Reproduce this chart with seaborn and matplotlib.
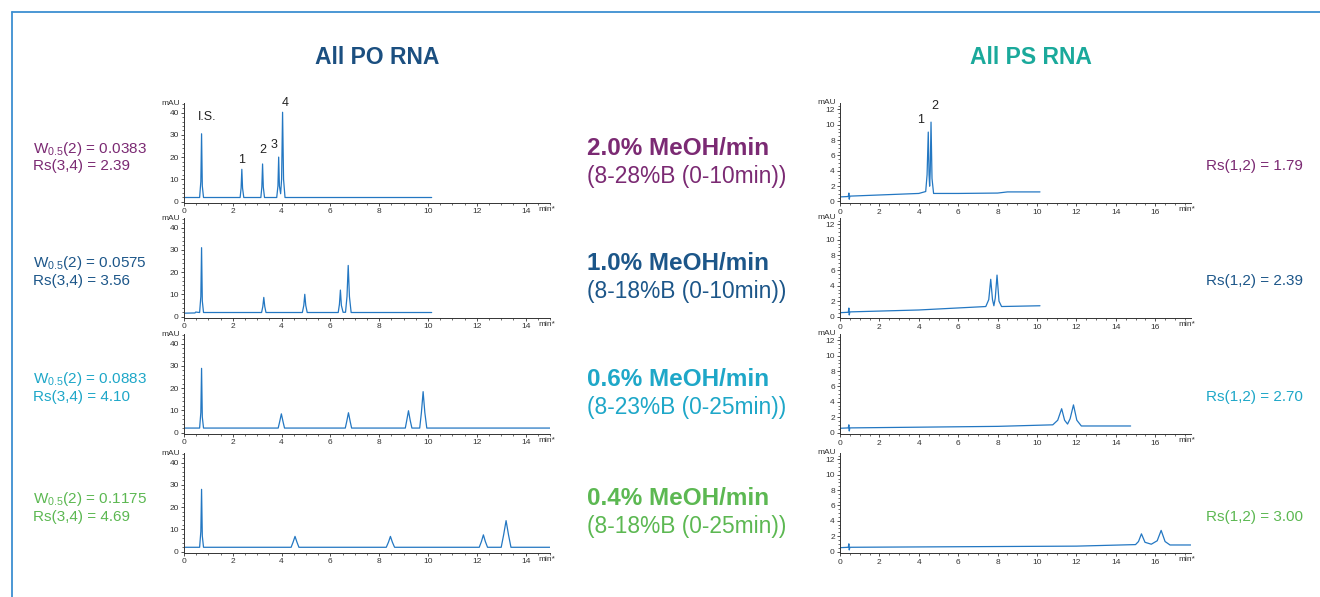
import pandas as pd
import seaborn as sns
import matplotlib.pyplot as plt
from matplotlib.lines import Line2D
from matplotlib.ticker import MultipleLocator

# Chromatogram traces (time in min, signal in mAU)
# All PO RNA, one trace per gradient
po20_t = [0.0, 0.64, 0.69, 0.72, 0.75, 0.80, 2.30, 2.34, 2.37, 2.40, 2.45, 3.15, 3.19, 3.22, 3.25, 3.30,
          3.80, 3.85, 3.88, 3.91, 3.96, 4.00, 4.04, 4.08, 4.14, 10.15]
po20_y = [1.8, 1.8, 9.0, 30.5, 7.0, 1.8, 1.8, 6.0, 14.5, 6.0, 1.8, 1.8, 6.5, 16.9, 6.5, 1.8,
          1.8, 7.0, 20.0, 7.0, 3.5, 10.0, 40.2, 10.0, 1.8, 1.8]

po10_t = [0.0, 0.45, 0.48, 0.64, 0.69, 0.72, 0.75, 0.80, 3.18, 3.23, 3.27, 3.31, 3.36, 4.85, 4.91, 4.95,
          4.99, 5.05, 6.32, 6.37, 6.41, 6.45, 6.52, 6.62, 6.68, 6.73, 6.78, 6.85, 10.15]
po10_y = [1.5, 1.6, 2.0, 1.8, 9.0, 31.0, 7.0, 1.8, 1.8, 4.5, 8.6, 4.5, 1.8, 1.8, 5.0, 10.0,
          5.0, 1.8, 1.8, 5.5, 11.9, 5.0, 1.9, 1.9, 9.0, 23.0, 9.0, 1.8, 1.8]

po06_t = [0.0, 0.64, 0.69, 0.72, 0.75, 0.80, 3.86, 3.92, 3.99, 4.06, 4.12, 6.61, 6.67, 6.74, 6.81, 6.87,
          9.07, 9.13, 9.20, 9.27, 9.34, 9.66, 9.73, 9.80, 9.87, 9.95, 15.0]
po06_y = [2.0, 2.0, 9.0, 28.9, 7.0, 2.0, 2.0, 4.8, 8.4, 4.8, 2.0, 2.0, 5.0, 8.9, 5.0, 2.0,
          2.0, 5.5, 9.8, 5.5, 2.0, 2.0, 9.0, 18.4, 9.0, 2.0, 2.0]

po04_t = [0.0, 0.64, 0.69, 0.72, 0.75, 0.80, 4.39, 4.47, 4.55, 4.63, 4.71, 8.29, 8.38, 8.46, 8.54, 8.63,
          12.10, 12.19, 12.27, 12.35, 12.44, 13.00, 13.10, 13.20, 13.30, 13.40, 15.0]
po04_y = [1.9, 1.9, 9.0, 28.0, 7.0, 1.9, 1.9, 4.2, 6.8, 4.2, 1.9, 1.9, 4.2, 6.8, 4.2, 1.9,
          1.9, 4.5, 7.5, 4.5, 1.9, 1.9, 7.5, 13.9, 7.5, 1.9, 1.9]

# All PS RNA, one trace per gradient
ps20_t = [0.0, 0.42, 0.45, 0.47, 0.50, 2.0, 4.00, 4.35, 4.42, 4.48, 4.52, 4.55, 4.58, 4.62, 4.67, 4.75,
          6.0, 8.0, 8.5, 10.15]
ps20_y = [0.6, 0.65, 1.1, 0.3, 0.7, 0.85, 1.05, 1.3, 3.5, 9.05, 3.5, 2.0, 4.0, 10.35, 3.0, 1.05,
          1.05, 1.1, 1.25, 1.25]

ps10_t = [0.0, 0.42, 0.45, 0.47, 0.50, 4.0, 7.40, 7.55, 7.65, 7.74, 7.81, 7.88, 7.97, 8.07, 8.20, 10.15]
ps10_y = [0.5, 0.55, 1.1, 0.2, 0.6, 0.85, 1.3, 2.2, 4.85, 2.2, 1.4, 2.4, 5.4, 2.0, 1.3, 1.4]

ps06_t = [0.0, 0.42, 0.45, 0.47, 0.50, 8.0, 10.80, 11.05, 11.25, 11.40, 11.55, 11.68, 11.85, 12.02, 12.25, 14.75]
ps06_y = [0.55, 0.6, 1.0, 0.2, 0.6, 0.8, 1.0, 1.6, 3.1, 1.6, 1.1, 1.8, 3.6, 1.6, 0.85, 0.85]

ps04_t = [0.0, 0.42, 0.45, 0.47, 0.50, 12.0, 15.00, 15.15, 15.30, 15.48, 15.80, 16.10, 16.30, 16.50, 16.75, 17.8]
ps04_y = [0.5, 0.55, 1.0, 0.2, 0.55, 0.7, 0.9, 1.3, 2.3, 1.2, 0.95, 1.4, 2.75, 1.3, 0.85, 0.85]

po_traces = [(po20_t, po20_y), (po10_t, po10_y), (po06_t, po06_y), (po04_t, po04_y)]
ps_traces = [(ps20_t, ps20_y), (ps10_t, ps10_y), (ps06_t, ps06_y), (ps04_t, ps04_y)]

# Peak labels on the first PO and PS chromatograms
po_peak_labels = ['I.S.', '1', '2', '3', '4']
po_peak_label_t = [0.95, 2.37, 3.22, 3.70, 4.14]
po_peak_label_y = [38.0, 18.5, 23.0, 25.5, 44.5]
ps_peak_labels = ['1', '2']
ps_peak_label_t = [4.10, 4.82]
ps_peak_label_y = [10.6, 12.4]

# Text beside each row
gradient_rates = ['2.0% MeOH/min', '1.0% MeOH/min', '0.6% MeOH/min', '0.4% MeOH/min']
gradient_ranges = ['(8-28%B (0-10min))', '(8-18%B (0-10min))', '(8-23%B (0-25min))', '(8-18%B (0-25min))']
w05_values = ['0.0383', '0.0575', '0.0883', '0.1175']
rs34_values = ['2.39', '3.56', '4.10', '4.69']
rs12_values = ['1.79', '2.39', '2.70', '3.00']
row_colors = ['#7b2a73', '#1c5689', '#1ea7c8', '#5cb852']

trace_color = '#2377c2'
axis_color = '#333333'

sns.set_theme(style='ticks')
plt.rcParams['font.family'] = ['Liberation Sans', 'DejaVu Sans']
plt.rcParams['mathtext.fontset'] = 'custom'
plt.rcParams['mathtext.rm'] = 'Liberation Sans'

W, H = 1320, 597
fig = plt.figure(figsize=(W / 100, H / 100), dpi=100)
fig.patch.set_facecolor('white')

# Blue frame at top and left
frame_c = '#3d8fd1'
fig.add_artist(Line2D([12 / W, 1.0], [1 - 12 / H, 1 - 12 / H], transform=fig.transFigure, color=frame_c, lw=1.3))
fig.add_artist(Line2D([12 / W, 12 / W], [0.0, 1 - 12 / H], transform=fig.transFigure, color=frame_c, lw=1.3))

# Column titles
fig.text(377 / W, 1 - 58 / H, 'All PO RNA', color='#1b4f80', fontsize=16.5, fontweight='bold', ha='center', va='center')
fig.text(1031 / W, 1 - 58 / H, 'All PS RNA', color='#1aa99b', fontsize=16.5, fontweight='bold', ha='center', va='center')

row_zero = [201.5, 316.5, 432.5, 551.5]


def make_axes(left_px, right_px, zero_px, ymin, ymax, ppu):
    bottom_px = zero_px - ymin * ppu
    top_px = zero_px - ymax * ppu
    return fig.add_axes([left_px / W, 1 - bottom_px / H, (right_px - left_px) / W, (bottom_px - top_px) / H])


def style_axes(ax, xmax, ymin, ymax, ymajor, yminor):
    ax.set_xlim(0, xmax)
    ax.set_ylim(ymin, ymax)
    ax.xaxis.set_major_locator(MultipleLocator(2))
    ax.xaxis.set_minor_locator(MultipleLocator(0.5))
    ax.yaxis.set_major_locator(MultipleLocator(ymajor))
    ax.yaxis.set_minor_locator(MultipleLocator(yminor))
    ax.set_xticks([t for t in ax.get_xticks() if 0 <= t < xmax - 0.5])
    ax.set_yticks([v for v in ax.get_yticks() if 0 <= v <= ymax])
    ax.tick_params(which='major', labelsize=6, length=2.5, width=0.6, pad=1.2, colors=axis_color)
    ax.tick_params(which='minor', length=1.3, width=0.5, colors=axis_color)
    sns.despine(ax=ax)
    for s in ['left', 'bottom']:
        ax.spines[s].set_color(axis_color)
        ax.spines[s].set_linewidth(0.7)
    ax.set_xlabel('')
    ax.set_ylabel('')
    ax.set_facecolor('none')
    ax.text(-0.012, 1.0, 'mAU', transform=ax.transAxes, ha='right', va='center', fontsize=6, color=axis_color)
    ax.annotate('min*', xy=(0.99, 0), xycoords='axes fraction', xytext=(0, -2.2), textcoords='offset points',
                ha='center', va='top', fontsize=6, color=axis_color)


for i in range(4):
    z = row_zero[i]

    # PO chromatogram
    ax = make_axes(184, 550, z, -0.8, 44.2, 2.22)
    t, y = po_traces[i]
    sns.lineplot(x=t, y=y, ax=ax, color=trace_color, lw=0.9, sort=False, estimator=None)
    style_axes(ax, 15, -0.8, 44.2, 10, 2)
    if i == 0:
        for lab, lt, ly in zip(po_peak_labels, po_peak_label_t, po_peak_label_y):
            ax.text(lt, ly, lab, ha='center', va='center', fontsize=9, color='#222222')

    # PS chromatogram
    ax = make_axes(840, 1190.7, z, -0.25, 12.9, 7.67)
    t, y = ps_traces[i]
    sns.lineplot(x=t, y=y, ax=ax, color=trace_color, lw=0.9, sort=False, estimator=None)
    style_axes(ax, 17.8, -0.25, 12.9, 2, 0.5)
    if i == 0:
        for lab, lt, ly in zip(ps_peak_labels, ps_peak_label_t, ps_peak_label_y):
            ax.text(lt, ly, lab, ha='center', va='center', fontsize=9, color='#222222')

    c = row_colors[i]
    # Left side: peak width and resolution
    fig.text(33 / W, 1 - (z - 53) / H, r'W$_\mathregular{0.5}$(2) = ' + w05_values[i], color=c, fontsize=11, va='center')
    fig.text(33 / W, 1 - (z - 35) / H, 'Rs(3,4) = ' + rs34_values[i], color=c, fontsize=11, va='center')

    # Middle: gradient description
    fig.text(587 / W, 1 - (z - 53) / H, gradient_rates[i], color=c, fontsize=17.5, fontweight='bold', va='center')
    fig.text(587 / W, 1 - (z - 25) / H, gradient_ranges[i], color=c, fontsize=16.4, va='center')

    # Right side: PS resolution
    fig.text(1206 / W, 1 - (z - 35) / H, 'Rs(1,2) = ' + rs12_values[i], color=c, fontsize=11, va='center')

plt.savefig('out.png', dpi=100, facecolor='white')
